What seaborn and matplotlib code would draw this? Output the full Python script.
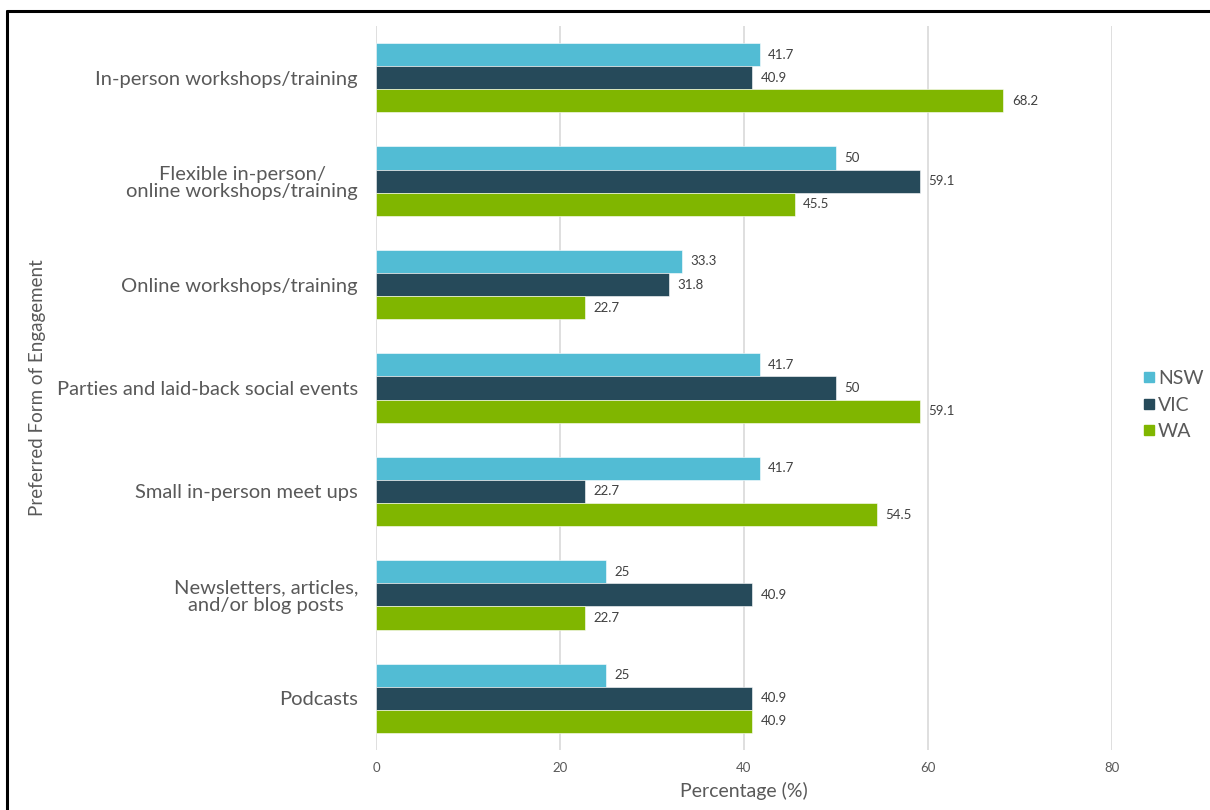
import matplotlib
matplotlib.use("Agg")
import matplotlib.pyplot as plt
from matplotlib.lines import Line2D
import pandas as pd
import seaborn as sns

categories = [
    "In-person workshops/training",
    "Flexible in-person/\nonline workshops/training",
    "Online workshops/training",
    "Parties and laid-back social events",
    "Small in-person meet ups",
    "Newsletters, articles,\nand/or blog posts",
    "Podcasts",
]
states = ["NSW", "VIC", "WA"]
nsw = [41.7, 50, 33.3, 41.7, 41.7, 25, 25]
vic = [40.9, 59.1, 31.8, 50, 22.7, 40.9, 40.9]
wa = [68.2, 45.5, 22.7, 59.1, 54.5, 22.7, 40.9]
x_ticks = [0, 20, 40, 60, 80]

palette = {"NSW": "#52BCD4", "VIC": "#264A5A", "WA": "#80B600"}
text_grey = "#595959"

rows = []
for st, vals in zip(states, [nsw, vic, wa]):
    for cat, v in zip(categories, vals):
        rows.append({"Category": cat, "State": st, "Value": v})
df = pd.DataFrame(rows)

sns.set_theme(style="white")
plt.rcParams["font.family"] = ["Lato", "DejaVu Sans"]

fig = plt.figure(figsize=(12.1, 8.1), dpi=100)
W, H = 1210, 810
left, right, top, bottom = 376, 1112, 26, 750
ax = fig.add_axes([left / W, 1 - bottom / H, (right - left) / W, (bottom - top) / H])

sns.barplot(
    data=df, y="Category", x="Value", hue="State", order=categories,
    hue_order=states, palette=palette, saturation=1, orient="h", width=0.67, gap=0,
    ax=ax, edgecolor="white", linewidth=0.4, legend=True, errorbar=None,
)

ax.set_xlim(0, 80)
ax.set_ylim(6.5, -0.5)
ax.set_xticks(x_ticks)
ax.xaxis.grid(True, color="#D9D9D9", linewidth=1.2)
ax.set_axisbelow(True)
for s in ax.spines.values():
    s.set_visible(False)
ax.tick_params(axis="both", length=0)
ax.tick_params(axis="x", labelsize=9.5, labelcolor=text_grey, pad=9)
ax.tick_params(axis="y", labelsize=14.5, labelcolor=text_grey, pad=13)
for lbl in ax.get_yticklabels():
    lbl.set_horizontalalignment("right")
    lbl.set_multialignment("center")
    lbl.set_linespacing(1.05)

ax.set_xlabel("Percentage (%)", fontsize=14, color=text_grey, labelpad=5)
ax.set_ylabel("Preferred Form of Engagement", fontsize=13.5, color=text_grey)
ax.yaxis.set_label_coords(-330 / (right - left), 0.5)

for cont in ax.containers:
    ax.bar_label(cont, labels=[f"{v:g}" for v in cont.datavalues],
                 padding=6, fontsize=9.5, color="#404040")

handles = [Line2D([], [], marker="s", linestyle="", markersize=7,
                  markerfacecolor=palette[s], markeredgecolor=palette[s]) for s in states]
ax.legend(handles, states, loc="center left", bbox_to_anchor=(1124 / W, 0.5),
          bbox_transform=fig.transFigure, frameon=False, fontsize=14,
          handletextpad=0.05, labelspacing=0.5, handlelength=0.8,
          labelcolor=text_grey)

# frame lines along the top and left edges of the figure
fig.add_artist(Line2D([7 / W, 1.0], [1 - 11 / H, 1 - 11 / H], color="black", linewidth=2.2,
                      transform=fig.transFigure))
fig.add_artist(Line2D([7 / W, 7 / W], [0.0, 1 - 11 / H], color="black", linewidth=2.2,
                      transform=fig.transFigure))

fig.savefig("out.png", dpi=100, facecolor="white")
